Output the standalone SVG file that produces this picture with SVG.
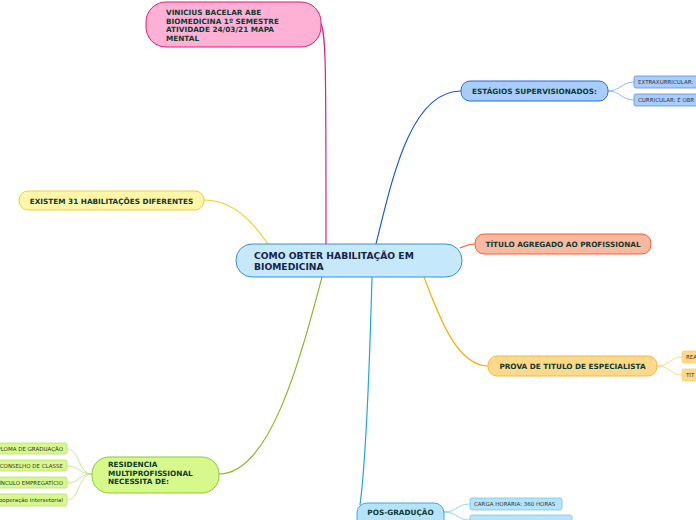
<svg xmlns="http://www.w3.org/2000/svg" width="696" height="520" viewBox="0 0 696 520">
<style>
text{font-family:"DejaVu Sans","Verdana",sans-serif;}
.b{font-weight:bold;font-size:7.3px;fill:#0d3b2e;}
.c{font-weight:bold;font-size:9.2px;fill:#15244a;}
.s{font-size:5.5px;fill:#333;}
.con{fill:none;stroke-width:1.2;}
.sub{fill:none;stroke-width:0.8;}
</style>
<rect width="696" height="520" fill="#ffffff"/>
<g id="connectors">
<path class="con" stroke="#ec1a7c" d="M320 22 C326 30 326 60 326 244"/>
<path class="con" stroke="#1b5ecb" d="M376 244 C392 180 410 91 461 91"/>
<path class="con" stroke="#e7d22c" d="M204 200 C235 200 255 225 268 244"/>
<path class="con" stroke="#f05a2a" d="M460 248 C466 246 468 244 475 244"/>
<path class="con" stroke="#f5b000" d="M424 277 C440 320 458 366 488 366"/>
<path class="con" stroke="#86b82a" d="M322 277 C300 360 270 474 219 474"/>
<path class="con" stroke="#1aa6e8" d="M372 277 C370 350 366 460 360 505"/>
<path class="sub" stroke="#7aa7ec" d="M608 91 C620 91 622 82 634 82 M608 91 C620 91 622 100 634 100"/>
<path class="sub" stroke="#f7cf70" d="M657 366 C670 366 670 357 682 357 M657 366 C670 366 670 375 682 375"/>
<path class="sub" stroke="#b9e07a" d="M92 474 C78 474 80 449 67 449 M92 474 C78 474 80 466 67 466 M92 474 C78 474 80 483 67 483 M92 474 C78 474 80 500 67 500"/>
<path class="sub" stroke="#78c8f0" d="M444 512 C457 512 457 504 470 504 M444 512 C457 512 457 520 470 520"/>
</g>
<g id="center">
<rect x="236" y="244" width="226" height="33" rx="16" fill="#c5e9fb" stroke="#3a8fd0"/>
<text class="c" x="254" y="259">COMO OBTER HABILITAÇÃO EM</text>
<text class="c" x="254" y="270">BIOMEDICINA</text>
</g>
<g id="pink">
<rect x="146" y="2" width="175" height="45" rx="20" fill="#ffb1d5" stroke="#e8177c"/>
<text class="b" x="166" y="15">VINICIUS BACELAR ABE</text>
<text class="b" x="166" y="23.5">BIOMEDICINA 1º SEMESTRE</text>
<text class="b" x="166" y="32">ATIVIDADE 24/03/21 MAPA</text>
<text class="b" x="166" y="40.5">MENTAL</text>
</g>
<g id="estagios">
<rect x="461" y="81" width="147" height="20" rx="9" fill="#a8cdfb" stroke="#2b69d5"/>
<text class="b" x="534.5" y="94" text-anchor="middle">ESTÁGIOS SUPERVISIONADOS:</text>
</g>
<g id="extra">
<rect x="634" y="76" width="80" height="12" rx="2" fill="#a8cdfb" stroke="#5b8fe0" stroke-width="0.8"/>
<text class="s" x="638" y="84">EXTRAXURRICULAR:</text>
</g>
<g id="curricular">
<rect x="634" y="94" width="80" height="12" rx="2" fill="#a8cdfb" stroke="#5b8fe0" stroke-width="0.8"/>
<text class="s" x="638" y="102">CURRICULAR: É OBR</text>
</g>
<g id="existem">
<rect x="19" y="191" width="185" height="19" rx="9" fill="#fff6a9" stroke="#e6d52e"/>
<text class="b" x="111.5" y="203.5" text-anchor="middle">EXISTEM 31 HABILITAÇÕES DIFERENTES</text>
</g>
<g id="titulo">
<rect x="475" y="234" width="176" height="20" rx="9" fill="#f9b9a1" stroke="#f0602f"/>
<text class="b" x="563" y="247" text-anchor="middle">TÍTULO AGREGADO AO PROFISSIONAL</text>
</g>
<g id="prova">
<rect x="488" y="356" width="169" height="20" rx="9" fill="#ffd98b" stroke="#f4b93c"/>
<text class="b" x="572.5" y="369" text-anchor="middle">PROVA DE TITULO DE ESPECIALISTA</text>
</g>
<g id="rea">
<rect x="682" y="351" width="30" height="12" rx="2" fill="#ffd98b" stroke="#f7cf70" stroke-width="0.8"/>
<text class="s" x="686" y="359">REA</text>
</g>
<g id="tit">
<rect x="682" y="369" width="30" height="12" rx="2" fill="#ffd98b" stroke="#f7cf70" stroke-width="0.8"/>
<text class="s" x="686" y="377">TÍT</text>
</g>
<g id="residencia">
<rect x="92" y="457" width="127" height="36" rx="17" fill="#d7f98b" stroke="#8cc73a"/>
<text class="b" x="108" y="467">RESIDENCIA</text>
<text class="b" x="108" y="475.5">MULTIPROFISSIONAL</text>
<text class="b" x="108" y="484">NECESSITA DE:</text>
</g>
<g id="diploma">
<rect x="-30" y="443" width="97" height="11" rx="2" fill="#d7f98b" stroke="#b9e07a" stroke-width="0.8"/>
<text class="s" x="63" y="450.7" text-anchor="end">DIPLOMA DE GRADUAÇÃO</text>
</g>
<g id="conselho">
<rect x="-30" y="460" width="97" height="11" rx="2" fill="#d7f98b" stroke="#b9e07a" stroke-width="0.8"/>
<text class="s" x="63" y="467.7" text-anchor="end">CONSELHO DE CLASSE</text>
</g>
<g id="vinculo">
<rect x="-30" y="477" width="97" height="11" rx="2" fill="#d7f98b" stroke="#b9e07a" stroke-width="0.8"/>
<text class="s" x="63" y="484.7" text-anchor="end">VÍNCULO EMPREGATÍCIO</text>
</g>
<g id="cooperacao">
<rect x="-30" y="494" width="97" height="12" rx="2" fill="#d7f98b" stroke="#b9e07a" stroke-width="0.8"/>
<text class="s" x="63" y="502" text-anchor="end">cooperação intersetorial</text>
</g>
<g id="pos">
<rect x="357" y="503" width="87" height="30" rx="10" fill="#b4e3fb" stroke="#38ade8"/>
<text class="b" x="400.5" y="515" text-anchor="middle">POS-GRADUÇÃO</text>
</g>
<g id="carga">
<rect x="470" y="498" width="92" height="12" rx="2" fill="#b4e3fb" stroke="#78c8f0" stroke-width="0.8"/>
<text class="s" x="474" y="506">CARGA HORÁRIA: 360 HORAS</text>
</g>
<g id="pos2">
<rect x="470" y="515" width="102" height="12" rx="2" fill="#b4e3fb" stroke="#78c8f0" stroke-width="0.8"/>
</g>
</svg>
